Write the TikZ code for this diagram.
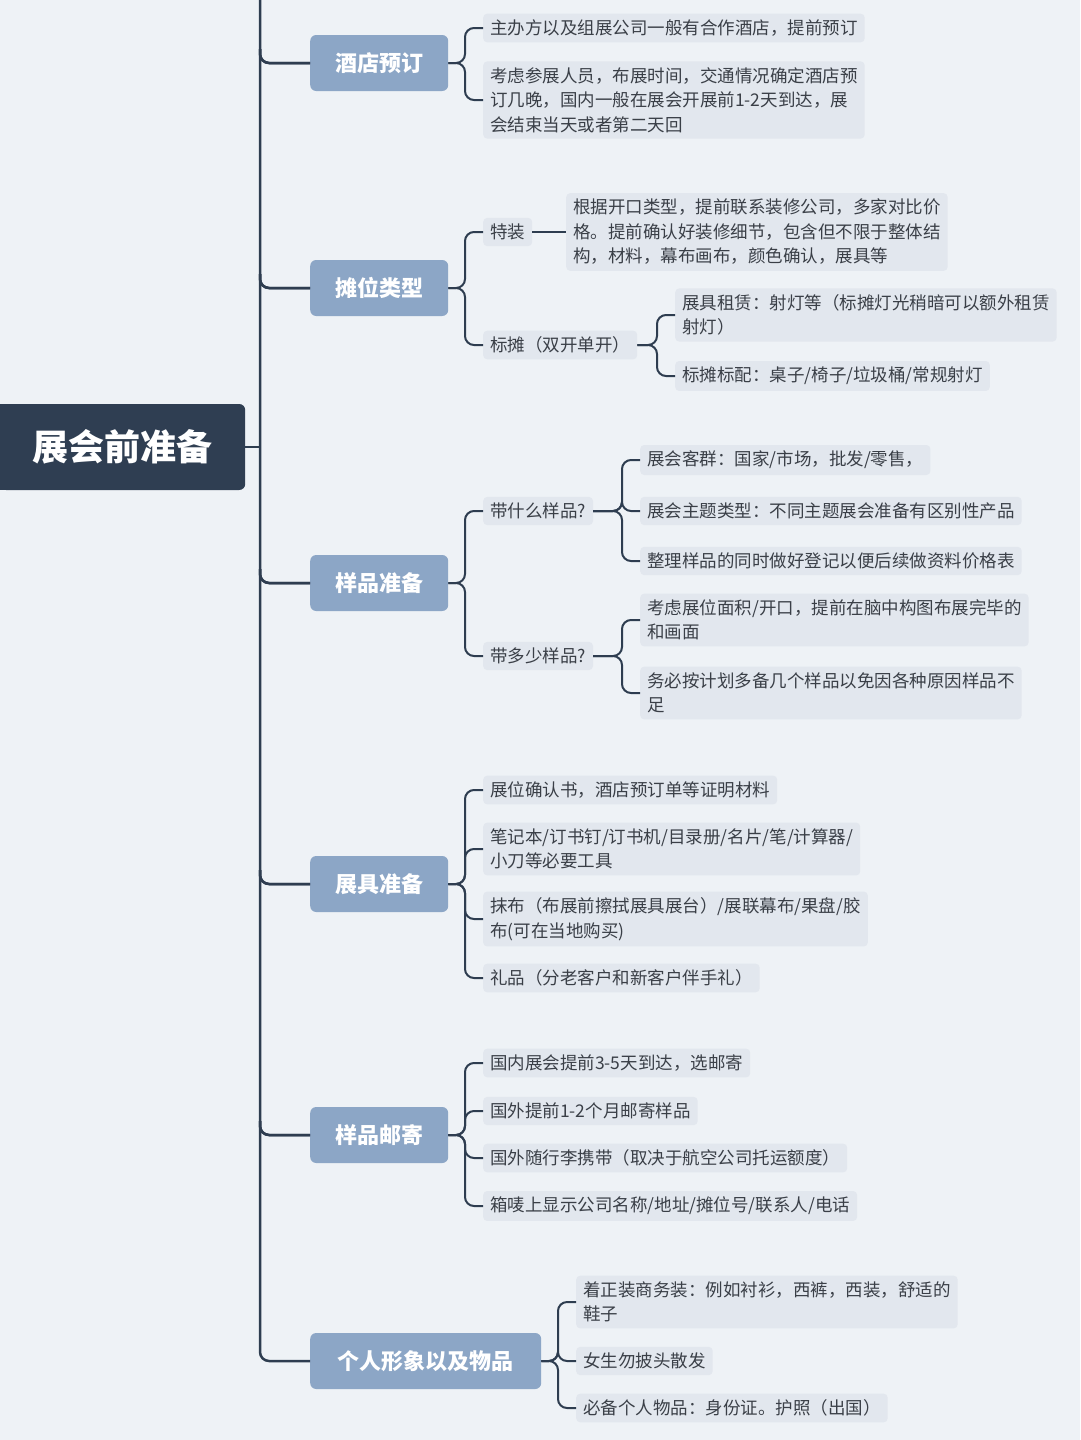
\documentclass[tikz,border=0pt]{standalone}
\usepackage{fontspec}
\setmainfont{Noto Sans CJK SC}
\begin{document}
\begin{tikzpicture}[x=1pt,y=-1pt,
 leaf/.style={fill=leafc, rounded corners=4pt, anchor=west, inner xsep=7pt, inner ysep=6pt, font=\fontsize{17.5}{24.5}\selectfont, text=txt, align=left},
 br/.style={fill=brc, rounded corners=6pt, minimum height=56pt, minimum width=138pt, font=\fontsize{22}{26}\selectfont\bfseries, text=white, anchor=west, inner sep=0pt},
 ln/.style={draw=lnc, line width=2pt, rounded corners=9pt}]
\definecolor{bg}{HTML}{EEF2F6}
\definecolor{leafc}{HTML}{E2E7EE}
\definecolor{txt}{HTML}{3A3F47}
\definecolor{brc}{HTML}{8CA6C6}
\definecolor{lnc}{HTML}{2E3D50}
\definecolor{rootc}{HTML}{2F3E52}
\fill[bg] (0,0) rectangle (1080,1440);
\useasboundingbox (0,0) rectangle (1080,1440);
\node[fill=rootc, rounded corners=6pt, anchor=west, minimum width=245pt, minimum height=86pt, text=white, font=\fontsize{36}{40}\selectfont\bfseries] (root) at (0,447) {展会前准备};
\fill[rootc] (0,404) rectangle (10,490);
% branches
\node[br] (b1) at (310,63) {酒店预订};
\node[br] (b2) at (310,288) {摊位类型};
\node[br] (b3) at (310,583) {样品准备};
\node[br] (b4) at (310,884) {展具准备};
\node[br] (b5) at (310,1135) {样品邮寄};
\node[br, minimum width=231pt] (b6) at (310,1361) {个人形象以及物品};
\coordinate (t0) at (260,0);
\draw[ln, line width=2.5pt] (t0) |- (b6.west);
\draw[ln, line width=2.5pt] (root.east) -- (260,447);
\foreach \b/\y in {b1/63,b2/288,b3/583,b4/884,b5/1135}{
  \draw[ln, line width=2.5pt] (260,\y-14) -- (260,\y) [sharp corners] -- (\b.west);
  \draw[ln, line width=2.5pt] (260,\y-14) |- (\b.west);
}
% leaves b1
\node[leaf] (l11) at (483,28) {主办方以及组展公司一般有合作酒店，提前预订};
\node[leaf] (l12) at (483,100) {考虑参展人员，布展时间，交通情况确定酒店预\\订几晚，国内一般在展会开展前1-2天到达，展\\会结束当天或者第二天回};
% b2
\node[leaf] (l21) at (483,232) {特装};
\node[leaf] (l211) at (566,232) {根据开口类型，提前联系装修公司，多家对比价\\格。提前确认好装修细节，包含但不限于整体结\\构，材料，幕布画布，颜色确认，展具等};
\node[leaf] (l22) at (483,345) {标摊（双开单开）};
\node[leaf] (l221) at (675,315) {展具租赁：射灯等（标摊灯光稍暗可以额外租赁\\射灯）};
\node[leaf] (l222) at (675,376) {标摊标配：桌子/椅子/垃圾桶/常规射灯};
% b3
\node[leaf] (l31) at (483,511) {带什么样品?};
\node[leaf] (l311) at (640,460) {展会客群：国家/市场，批发/零售，};
\node[leaf] (l312) at (640,511) {展会主题类型：不同主题展会准备有区别性产品};
\node[leaf] (l313) at (640,561) {整理样品的同时做好登记以便后续做资料价格表};
\node[leaf] (l32) at (483,656) {带多少样品?};
\node[leaf] (l321) at (640,620) {考虑展位面积/开口，提前在脑中构图布展完毕的\\和画面};
\node[leaf] (l322) at (640,693) {务必按计划多备几个样品以免因各种原因样品不\\足};
% b4
\node[leaf] (l41) at (483,790) {展位确认书，酒店预订单等证明材料};
\node[leaf] (l42) at (483,849) {笔记本/订书钉/订书机/目录册/名片/笔/计算器/\\小刀等必要工具};
\node[leaf] (l43) at (483,919) {抹布（布展前擦拭展具展台）/展联幕布/果盘/胶\\布(可在当地购买)};
\node[leaf] (l44) at (483,978) {礼品（分老客户和新客户伴手礼）};
% b5
\node[leaf] (l51) at (483,1063) {国内展会提前3-5天到达，选邮寄};
\node[leaf] (l52) at (483,1111) {国外提前1-2个月邮寄样品};
\node[leaf] (l53) at (483,1158) {国外随行李携带（取决于航空公司托运额度）};
\node[leaf] (l54) at (483,1206) {箱唛上显示公司名称/地址/摊位号/联系人/电话};
% b6
\node[leaf] (l61) at (576,1302) {着正装商务装：例如衬衫，西裤，西装，舒适的\\鞋子};
\node[leaf] (l62) at (576,1361) {女生勿披头散发};
\node[leaf] (l63) at (576,1408) {必备个人物品：身份证。护照（出国）};
% connectors
\foreach \p/\x/\l in {b1/465/l11,b1/465/l12,b2/465/l21,b2/465/l22,b3/465/l31,b3/465/l32,
 b4/465/l41,b4/465/l42,b4/465/l43,b4/465/l44,b5/465/l51,b5/465/l52,b5/465/l53,b5/465/l54,
 b6/558/l61,b6/558/l62,b6/558/l63,l22/657/l221,l22/657/l222,
 l31/622/l311,l31/622/l312,l31/622/l313,l32/622/l321,l32/622/l322}{
  \draw[ln] (\p.east) -- (\x,0 |- \p.east) |- (\l.west);
}
\draw[ln] (l21.east) -- (l211.west);
\end{tikzpicture}
\end{document}
